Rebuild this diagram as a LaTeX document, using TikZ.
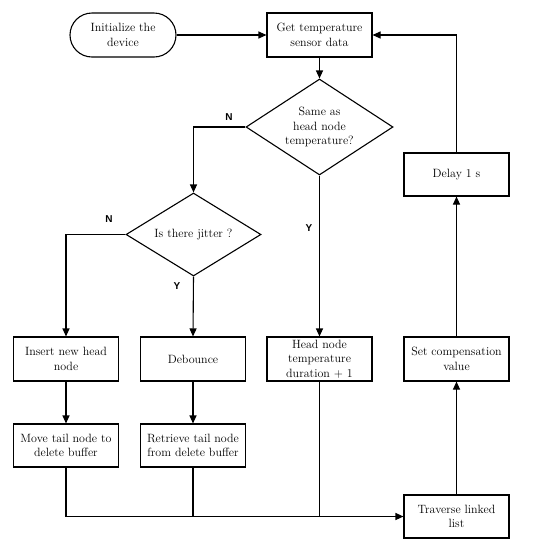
\documentclass[tikz,border=0pt]{standalone}
\usepackage{fontspec}
\newfontfamily\labfont{Liberation Sans}
\usetikzlibrary{shapes.geometric,arrows.meta}
\begin{document}
\begin{tikzpicture}[x=1pt,y=-1pt,
  every node/.style={font=\fontsize{12}{14.6}\selectfont, align=center, inner sep=1pt},
  box/.style={draw, line width=1.1pt, minimum width=105pt, minimum height=43pt},
  term/.style={draw, line width=1.1pt, minimum width=106pt, minimum height=44pt, rounded corners=22pt},
  dec/.style={draw, line width=1.1pt, diamond, inner sep=0pt},
  yn/.style={font=\labfont\bfseries\fontsize{10}{12}\selectfont},
  conn/.style={line width=1.1pt},
  arr/.style={conn, -{Triangle[length=8pt,width=7pt]}}]
\useasboundingbox (0,0) rectangle (536,550);
\node[term] (init) at (123,35) {Initialize the\\device};
\node[box, minimum height=44pt] (get) at (319.5,35) {Get temperature\\sensor data};
\node[dec, minimum width=147pt, minimum height=96pt, aspect=1.53] (d1) at (319.5,127) {Same as\\head node\\temperature?};
\node[dec, minimum width=135pt, minimum height=83pt, aspect=1.63] (d2) at (193.5,234.5) {Is there jitter ?};
\node[box] (delay) at (456.5,174.5) {Delay 1 s};
\node[box, minimum height=44pt] (insert) at (66,359) {Insert new head\\node};
\node[box, minimum height=44pt] (deb) at (193,359) {Debounce};
\node[box, minimum height=44pt] (head) at (319.5,359) {Head node\\temperature\\duration + 1};
\node[box, minimum height=44pt] (setc) at (456.5,359) {Set compensation\\value};
\node[box] (move) at (66,445.5) {Move tail node to\\delete buffer};
\node[box] (retr) at (193,445.5) {Retrieve tail node\\from delete buffer};
\node[box] (trav) at (456.5,516.5) {Traverse linked\\list};
\node[yn] (n1) at (229,117) {N};
\node[yn] (y1) at (309,228) {Y};
\node[yn] (n2) at (109,219) {N};
\node[yn] (y2) at (177,286) {Y};
\draw[arr] (init) -- (get);
\draw[arr] (get) -- (d1);
\draw[arr] (d1.west) -| (d2.north);
\draw[arr] (d1.south) -- (head.north);
\draw[arr] (d2.west) -| (insert.north);
\draw[arr] (d2.south) -- (deb.north);
\draw[arr] (insert) -- (move);
\draw[arr] (deb) -- (retr);
\draw[arr] (move.south) |- (trav.west);
\draw[conn] (retr.south) -- (retr.south |- trav.west);
\draw[conn] (head.south) -- (head.south |- trav.west);
\draw[arr] (trav) -- (setc);
\draw[arr] (setc) -- (delay);
\draw[arr] (delay.north) |- (get.east);
\end{tikzpicture}
\end{document}
